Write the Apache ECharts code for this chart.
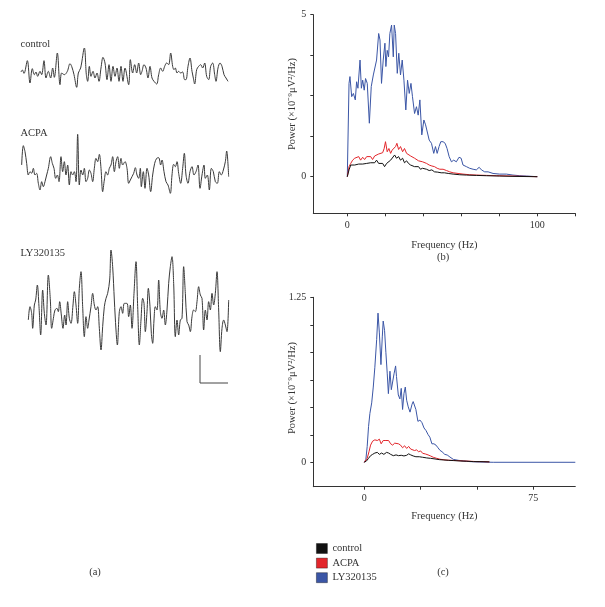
<!DOCTYPE html>
<html>
<head>
<meta charset="utf-8">
<script src="https://cdn.jsdelivr.net/npm/echarts@6/dist/echarts.min.js"></script>
<style>html,body{margin:0;padding:0;background:#fff}#c{width:605px;height:607px}</style>
</head>
<body>
<div id="c"></div>
<script>
// ---- Panel (a): EEG traces, [time (sample units), amplitude] ----
const traceControl = [[18,-2],[22,4],[27,-6],[37,32],[45,-35],[52,8],[58,-10],[63,-2],[68,-15],[75,0],[80,-10],[87,32],[93,-20],[100,0],[107,-20],[113,10],[118,-18],[127,55],[135,-40],[140,-5],[148,-10],[157,0],[165,23],[170,15],[177,-10],[185,-48],[190,-5],[197,10],[208,70],[214,-10],[218,-30],[223,15],[228,-15],[234,0],[240,-20],[246,-5],[252,-30],[258,10],[264,42],[270,25],[276,-25],[282,20],[288,-30],[294,15],[300,-15],[306,10],[312,-30],[318,15],[324,-30],[330,10],[341,-40],[346,35],[353,-5],[359,20],[365,-5],[371,25],[377,-10],[381,0],[387,20],[393,10],[399,-20],[405,15],[411,-20],[417,-30],[425,-38],[431,-10],[437,10],[443,0],[449,15],[455,25],[461,20],[467,55],[473,15],[477,5],[481,10],[486,-5],[491,0],[497,-5],[503,-2],[509,-25],[513,-25],[519,15],[525,40],[531,0],[535,-20],[539,-38],[545,5],[551,15],[557,20],[563,10],[569,25],[575,-15],[581,-25],[587,15],[593,25],[599,-10],[603,-30],[609,10],[615,25],[621,15],[627,-10],[633,-20],[639,-30]];
const traceACPA = [[20,20],[25,78],[30,60],[35,25],[40,-10],[45,0],[50,-5],[55,10],[60,-10],[65,-5],[70,-35],[75,-55],[80,-30],[85,-45],[90,-30],[95,-10],[100,10],[107,45],[112,25],[117,10],[122,-20],[127,-10],[132,-30],[138,45],[143,0],[148,30],[153,-10],[158,20],[163,-40],[168,0],[173,-10],[178,0],[183,-30],[188,112],[193,-40],[198,5],[203,-10],[208,10],[213,-30],[218,-20],[223,5],[228,-5],[233,-30],[238,10],[243,40],[248,30],[253,52],[258,10],[263,-60],[268,-25],[273,0],[278,-10],[283,10],[288,20],[293,45],[298,0],[303,30],[308,45],[313,10],[318,40],[323,20],[330,30],[336,10],[341,-35],[346,-25],[351,-15],[356,-5],[361,12],[366,-10],[371,-20],[376,10],[379,-45],[385,0],[390,-50],[396,10],[401,-10],[407,-60],[413,-10],[419,25],[425,40],[431,42],[437,20],[441,35],[447,0],[453,-30],[459,-40],[466,-65],[471,-10],[476,22],[481,15],[486,30],[491,-5],[497,-35],[503,10],[508,55],[513,-10],[519,-35],[525,0],[531,15],[537,-10],[543,0],[549,20],[555,-50],[561,-10],[567,20],[571,-20],[577,-10],[583,-55],[589,10],[595,0],[601,-30],[607,-35],[613,0],[619,-10],[625,5],[631,30],[635,62],[641,-15]];
const traceLY = [[40,-20],[45,20],[50,0],[53,-45],[58,25],[62,40],[67,85],[72,20],[77,-65],[83,70],[88,0],[93,-35],[100,115],[106,40],[110,-45],[116,-10],[120,10],[126,15],[130,5],[134,35],[139,-5],[144,-45],[149,-5],[153,-35],[158,35],[163,-15],[168,-30],[174,25],[178,65],[183,25],[188,-30],[193,75],[198,125],[203,20],[208,-70],[213,-10],[218,-45],[222,-20],[228,20],[233,60],[238,25],[243,10],[248,20],[253,-45],[258,-110],[263,-40],[268,20],[273,45],[278,60],[284,100],[288,190],[293,140],[298,40],[303,-50],[307,-95],[313,5],[318,20],[323,0],[328,30],[336,30],[341,-10],[346,25],[351,-45],[357,60],[363,155],[368,20],[373,-95],[378,-20],[383,45],[387,30],[391,-55],[396,5],[400,75],[405,20],[409,-60],[413,-90],[417,-20],[421,20],[426,10],[431,100],[436,5],[441,-15],[446,10],[451,-35],[456,10],[461,90],[466,140],[471,170],[476,90],[481,-70],[486,-20],[491,-65],[496,-20],[501,-15],[506,140],[511,60],[516,-25],[521,-35],[526,-55],[531,-10],[536,10],[541,5],[546,35],[551,80],[556,55],[561,45],[566,-50],[571,10],[576,-20],[581,35],[586,10],[591,60],[596,25],[601,60],[606,125],[611,10],[616,-115],[621,-45],[626,-20],[631,-35],[636,-55],[641,40]];
const scaleBar = [[555,-125],[555,-209],[639,-209]];
const traceLabels = ['control', 'ACPA', 'LY320135'];

// ---- Panel (b): power spectra, [frequency Hz, power] ----
const specB_control = [[0,0],[0.9,0.21],[1.8,0.36],[2.8,0.41],[3.9,0.36],[4.9,0.41],[6,0.39],[7,0.43],[8.1,0.39],[9.1,0.43],[10.2,0.41],[11.2,0.46],[12.3,0.43],[13.3,0.49],[14.4,0.43],[15.4,0.51],[16.5,0.41],[17.5,0.46],[18.6,0.41],[19.6,0.31],[20.7,0.41],[21.7,0.46],[22.8,0.51],[23.8,0.57],[24.9,0.67],[25.9,0.57],[27,0.62],[28,0.51],[29.1,0.57],[30.1,0.43],[31.2,0.49],[32.2,0.41],[33.3,0.36],[34.3,0.41],[35.4,0.31],[36.4,0.26],[37.5,0.31],[38.5,0.23],[39.6,0.26],[40.6,0.21],[41.7,0.23],[43.1,0.19],[44.5,0.21],[45.9,0.15],[47.6,0.14],[49.4,0.12],[51.1,0.12],[53.1,0.1],[55.7,0.08],[59.2,0.06],[62.7,0.05],[67.9,0.04],[73.2,0.03],[80.2,0.02],[87.2,0.01],[100,0]];
const specB_ACPA = [[0,0],[0.9,0.31],[1.8,0.41],[2.8,0.51],[3.9,0.57],[4.9,0.51],[6,0.62],[7,0.51],[8.1,0.6],[9.1,0.53],[10.2,0.62],[11.2,0.57],[12.3,0.62],[13.3,0.53],[14.4,0.64],[15.4,0.67],[16.5,0.7],[17.5,0.67],[18.6,0.74],[19.4,0.87],[20.1,1.08],[21,0.77],[21.9,0.87],[22.8,0.72],[23.6,0.82],[24.5,0.87],[25.4,0.93],[26.1,1.03],[27,0.84],[28,0.93],[29.1,0.77],[30.1,0.87],[31.2,0.72],[32.2,0.77],[33.3,0.64],[34.3,0.7],[35.4,0.57],[36.4,0.62],[37.5,0.49],[38.5,0.53],[39.6,0.46],[40.6,0.43],[41.7,0.41],[43.1,0.36],[44.5,0.33],[45.9,0.31],[47.3,0.26],[48.7,0.23],[50.4,0.23],[52.2,0.19],[53.9,0.15],[55.7,0.12],[58.3,0.1],[60.9,0.08],[64.4,0.06],[67.9,0.05],[73.2,0.04],[78.5,0.03],[87.2,0.02],[100,0]];
const specB_LY = [[0,0],[0.9,2.88],[1.4,3.09],[2.3,2.47],[3.2,2.57],[4.2,2.37],[4.9,2.93],[5.6,2.73],[6.7,3.6],[7.4,2.73],[8.1,2.98],[8.9,2.67],[9.6,3.03],[10.5,2.88],[11.6,1.65],[12.6,2.78],[13.7,3.14],[14.5,3.19],[15.4,3.6],[16.5,4.42],[17.2,4.22],[18,2.88],[18.9,3.6],[19.8,4.12],[20.3,3.4],[21,3.9],[21.7,3.7],[22.4,4.42],[23.3,4.68],[24.2,3.7],[24.7,4.68],[25.4,4.42],[26.3,3.19],[27.1,3.81],[28,3.14],[28.9,3.6],[29.8,2.98],[30.8,2.06],[31.7,2.98],[32.6,2.57],[33.5,2.88],[34.3,2.47],[35.4,1.95],[36.4,2.16],[37.3,1.9],[38.2,2.37],[39.2,1.29],[40.3,1.75],[41.2,1.6],[42.2,1.65],[43.1,1.13],[44.3,1.03],[45.5,0.72],[46.4,0.93],[47.3,0.72],[48.3,0.93],[49.2,1.08],[50.4,1.08],[51.5,1.03],[52.5,0.87],[53.6,0.62],[54.8,0.46],[56,0.51],[57.4,0.46],[58.8,0.6],[59.9,0.57],[60.9,0.36],[62.7,0.31],[64.4,0.26],[66.2,0.23],[67.9,0.21],[69.4,0.29],[70.6,0.21],[72.3,0.15],[74.1,0.15],[76.7,0.1],[80.2,0.08],[83.7,0.08],[87.2,0.05],[90.8,0.03],[94.3,0.02],[100,0]];

// ---- Panel (c): power spectra, [frequency Hz, power] ----
const specC_control = [[0,0],[1,0.01],[1.9,0.03],[2.8,0.05],[3.7,0.06],[4.7,0.07],[5.8,0.075],[6.7,0.06],[7.7,0.07],[8.7,0.06],[9.9,0.075],[10.8,0.07],[11.7,0.06],[12.9,0.05],[14.1,0.056],[15.2,0.05],[16.4,0.053],[17.6,0.048],[18.8,0.053],[19.7,0.064],[20.6,0.056],[21.7,0.048],[22.9,0.042],[24.4,0.042],[25.9,0.038],[27.7,0.033],[29.4,0.03],[31.4,0.025],[33.3,0.02],[35,0.018],[37.3,0.015],[39.5,0.013],[42.5,0.01],[45.4,0.008],[48.4,0.005],[51.3,0.005],[55.5,0.003]];
const specC_ACPA = [[0,0],[0.7,0.005],[1.3,0.03],[2.1,0.08],[2.8,0.13],[3.7,0.16],[4.7,0.17],[5.8,0.165],[6.7,0.175],[7.5,0.14],[8.4,0.165],[9.6,0.165],[10.8,0.165],[11.7,0.14],[12.6,0.13],[13.5,0.145],[14.3,0.13],[15.2,0.14],[16.1,0.13],[17,0.11],[17.9,0.125],[18.8,0.105],[19.7,0.12],[20.6,0.1],[21.4,0.107],[22.3,0.089],[23.2,0.094],[24.1,0.08],[25,0.086],[25.9,0.068],[27.1,0.063],[28.3,0.056],[29.4,0.048],[30.6,0.038],[32.1,0.03],[33.6,0.023],[35.8,0.018],[38,0.015],[41,0.013],[43.9,0.01],[46.9,0.008],[49.9,0.005],[52.8,0.005],[55.5,0.003]];
const specC_LY = [[0,0],[0.7,0.02],[1.3,0.12],[1.9,0.27],[2.5,0.37],[3.3,0.45],[4,0.57],[4.7,0.72],[5.5,0.93],[6.1,1.13],[6.7,0.98],[7.4,0.74],[8,0.95],[8.4,1.07],[9,1.0],[9.6,0.83],[10.2,0.67],[10.7,0.52],[11.4,0.69],[12,0.55],[12.6,0.55],[13.2,0.67],[13.9,0.73],[14.3,0.65],[15.1,0.51],[15.8,0.48],[16.4,0.56],[17,0.4],[17.6,0.52],[18.2,0.57],[18.8,0.47],[19.5,0.42],[20.3,0.38],[21.2,0.44],[21.7,0.46],[22.3,0.47],[22.9,0.4],[23.8,0.31],[24.7,0.32],[25.6,0.3],[26.5,0.26],[27.4,0.24],[28.3,0.21],[29.1,0.19],[30,0.14],[30.9,0.14],[31.8,0.13],[32.7,0.11],[33.6,0.09],[34.5,0.08],[35.7,0.06],[36.8,0.055],[38,0.04],[39.5,0.022],[41.7,0.015],[43.9,0.01],[46.9,0.005],[51.3,0.002],[57.2,0],[93.6,0]];

const seriesNames = ['control', 'ACPA', 'LY320135'];
const seriesColors = ['#111111', '#e3262b', '#3b56a6'];
const ticksB_x = [0, 20, 40, 60, 80, 100, 120];
const labelsB_x = [0, 100];
const ticksB_y = [0, 1.25, 2.5, 3.75, 5];
const labelsB_y = [0, 5];
const ticksC_x = [0, 25, 50, 75];
const labelsC_x = [0, 75];
const ticksC_y = [0, 0.2083, 0.4167, 0.625, 0.8333, 1.0417, 1.25];
const labelsC_y = [0, 1.25];

const FONT = 'Liberation Serif';
const TXT = '#333';
const chart = echarts.init(document.getElementById('c'), null, {renderer: 'canvas'});

function traceAxes(min, max) {
  return {type: 'value', min: min, max: max, show: false};
}
function specX(idx, min, max, ticks, labels, gap) {
  return {
    type: 'value', gridIndex: idx, min: min, max: max,
    name: 'Frequency (Hz)', nameLocation: 'middle', nameGap: gap,
    nameTextStyle: {fontFamily: FONT, fontSize: 10.5, color: TXT},
    axisLine: {onZero: false, lineStyle: {color: '#333', width: 1}},
    axisTick: {show: true, length: 3, inside: false, customValues: ticks, lineStyle: {color: '#333'}},
    axisLabel: {customValues: labels, margin: 7, fontFamily: FONT, fontSize: 10, color: TXT},
    splitLine: {show: false}
  };
}
function specY(idx, min, max, ticks, labels) {
  return {
    type: 'value', gridIndex: idx, min: min, max: max,
    axisLine: {show: true, onZero: false, lineStyle: {color: '#333', width: 1}},
    axisTick: {show: true, length: 3, inside: false, customValues: ticks, lineStyle: {color: '#333'}},
    axisLabel: {customValues: labels, margin: 7, fontFamily: FONT, fontSize: 10, color: TXT},
    splitLine: {show: false}
  };
}
function traceSeries(data, idx) {
  return {type: 'line', xAxisIndex: idx, yAxisIndex: idx, data: data, showSymbol: false, smooth: 0.35,
    lineStyle: {color: '#3a3a3a', width: 1}, silent: true};
}
function specSeries(data, idx, k) {
  return {type: 'line', name: seriesNames[k], xAxisIndex: idx, yAxisIndex: idx, data: data, showSymbol: false,
    lineStyle: {color: seriesColors[k], width: 1}, itemStyle: {color: seriesColors[k]}, silent: true, z: 2 + (2 - k)};
}

const option = {
  backgroundColor: '#ffffff',
  animation: false,
  grid: [
    {left: 15, top: 48, width: 219, height: 52},
    {left: 15, top: 125, width: 219, height: 75},
    {left: 15, top: 240, width: 219, height: 145},
    {left: 313.3, top: 14.7, width: 262, height: 198.6},
    {left: 313.3, top: 297.3, width: 262, height: 189.4}
  ],
  xAxis: [
    Object.assign(traceAxes(0, 657), {gridIndex: 0}),
    Object.assign(traceAxes(0, 657), {gridIndex: 1}),
    Object.assign(traceAxes(0, 657), {gridIndex: 2}),
    specX(3, -17.9, 120, ticksB_x, labelsB_x, 26),
    specX(4, -22.6, 93.6, ticksC_x, labelsC_x, 24)
  ],
  yAxis: [
    Object.assign(traceAxes(-86, 70), {gridIndex: 0}),
    Object.assign(traceAxes(-85, 140), {gridIndex: 1}),
    Object.assign(traceAxes(-215, 220), {gridIndex: 2}),
    specY(3, -1.13, 5, ticksB_y, labelsB_y),
    specY(4, -0.185, 1.25, ticksC_y, labelsC_y)
  ],
  legend: {
    data: seriesNames, orient: 'vertical', left: 311, top: 538,
    icon: 'rect', itemWidth: 11, itemHeight: 10, itemGap: 3.6, selectedMode: false,
    itemStyle: {borderColor: 'rgba(0,0,0,0.45)', borderWidth: 0.8},
    textStyle: {fontFamily: FONT, fontSize: 10.5, color: TXT, lineHeight: 10, padding: [0, 0, 0, 0]}
  },
  series: [
    traceSeries(traceControl, 0),
    traceSeries(traceACPA, 1),
    traceSeries(traceLY, 2),
    {type: 'line', xAxisIndex: 2, yAxisIndex: 2, data: scaleBar, showSymbol: false,
      lineStyle: {color: '#444', width: 1}, silent: true},
    specSeries(specB_LY, 3, 2),
    specSeries(specB_ACPA, 3, 1),
    specSeries(specB_control, 3, 0),
    specSeries(specC_LY, 4, 2),
    specSeries(specC_ACPA, 4, 1),
    specSeries(specC_control, 4, 0)
  ],
  graphic: [
    {type: 'text', left: 20.5, top: 39, style: {text: traceLabels[0], font: '10.5px "Liberation Serif"', fill: TXT}},
    {type: 'text', left: 20.5, top: 128, style: {text: traceLabels[1], font: '10.5px "Liberation Serif"', fill: TXT}},
    {type: 'text', left: 20.5, top: 248, style: {text: traceLabels[2], font: '10.5px "Liberation Serif"', fill: TXT}},
    {type: 'text', x: 95, y: 572, style: {text: '(a)', font: '10.5px "Liberation Serif"', fill: TXT, align: 'center', verticalAlign: 'middle'}},
    {type: 'text', x: 443, y: 257, style: {text: '(b)', font: '10.5px "Liberation Serif"', fill: TXT, align: 'center', verticalAlign: 'middle'}},
    {type: 'text', x: 443, y: 572, style: {text: '(c)', font: '10.5px "Liberation Serif"', fill: TXT, align: 'center', verticalAlign: 'middle'}},
    {type: 'text', x: 292, y: 104, rotation: Math.PI / 2, style: {text: 'Power (×10⁻⁹μV²/Hz)', font: '10.5px "Liberation Serif"', fill: TXT, align: 'center', verticalAlign: 'middle'}},
    {type: 'text', x: 292, y: 388, rotation: Math.PI / 2, style: {text: 'Power (×10⁻⁹μV²/Hz)', font: '10.5px "Liberation Serif"', fill: TXT, align: 'center', verticalAlign: 'middle'}}
  ]
};
chart.setOption(option);
</script>
</body>
</html>
